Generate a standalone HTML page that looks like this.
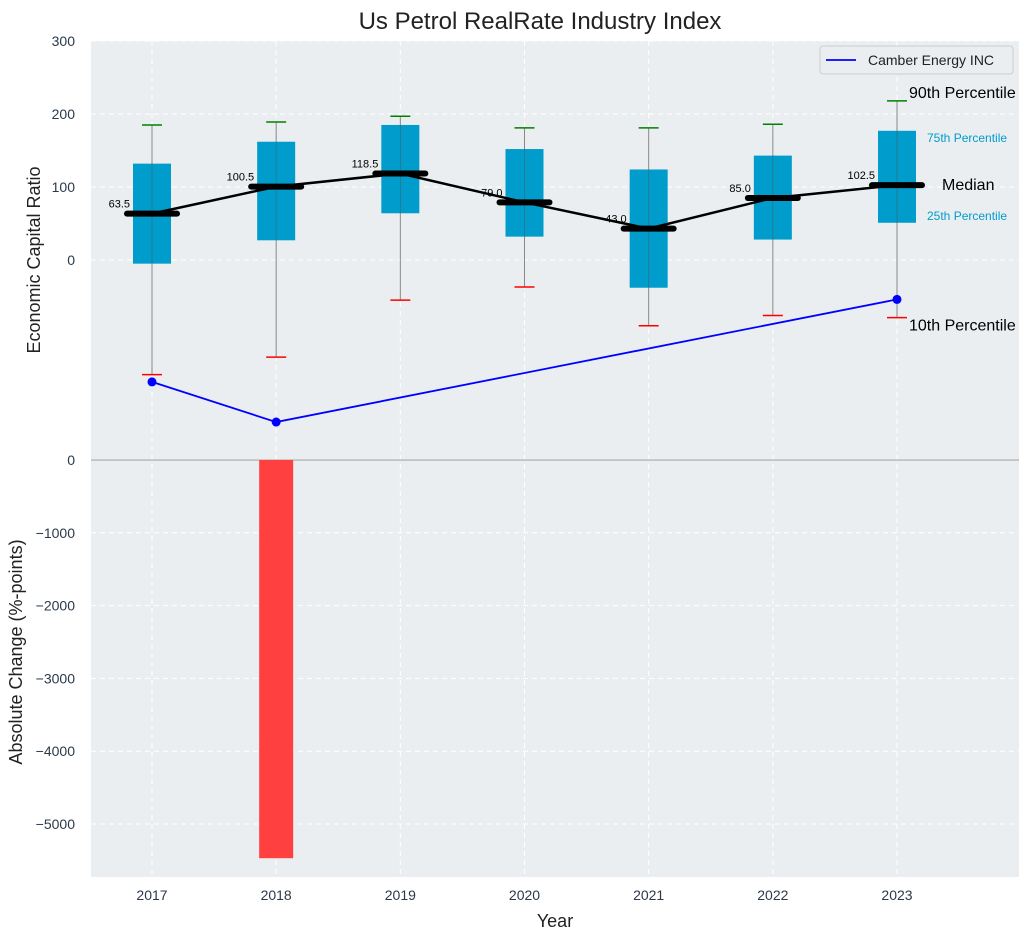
<!DOCTYPE html>
<html><head><meta charset="utf-8"><style>
body{margin:0;background:#fff;font-family:"Liberation Sans",sans-serif}
svg text{font-family:"Liberation Sans","DejaVu Sans",sans-serif}
</style></head><body>
<svg id="chart" width="1030" height="940" xmlns="http://www.w3.org/2000/svg"></svg>
<script>
const years=[2017,2018,2019,2020,2021,2022,2023];
const q1=[-5,27,64,32,-38,28,51];
const q3=[132,162,185,152,124,143,177];
const medians=[63.5,100.5,118.5,79.0,43.0,85.0,102.5];
const p90=[185,189,197,181,181,186,218];
const p10=[-157,-133,-55,-37,-90,-76,-79];
const camber=[-167,-222,null,null,null,null,-54];
const changeVals=[0,-5470,0,0,0,0,0];
const topTicks=[0,100,200,300];
const botTicks=[0,-1000,-2000,-3000,-4000,-5000];

const NS="http://www.w3.org/2000/svg";
const svg=document.getElementById('chart');
function el(tag,attrs,parent,txt){const e=document.createElementNS(NS,tag);for(const k in attrs)e.setAttribute(k,attrs[k]);if(txt!==undefined)e.textContent=txt;(parent||svg).appendChild(e);return e;}
const fmt=v=>String(v).replace('-','\u2212');
const L=91,R=1019;
const xs=i=>152+i*(897-152)/6;
const yT=v=>260-v*0.73;
const yB=v=>460-v*0.0728;

let bg=el('rect',{x:L,y:41,width:R-L,height:418,fill:'#eaeef0'});

let bg2=el('rect',{x:L,y:460,width:R-L,height:417,fill:'#eaeef0'});

years.forEach((y,i)=>{el('line',{x1:xs(i),x2:xs(i),y1:41,y2:877,stroke:'#fff','stroke-dasharray':'5,4','stroke-width':1});});
topTicks.forEach(t=>{el('line',{x1:L,x2:R,y1:yT(t),y2:yT(t),stroke:'#fff','stroke-dasharray':'5,4'});
 const tx=el('text',{x:75,y:yT(t)+5,'text-anchor':'end','font-size':14,fill:'#2b3a4a'},null,fmt(t));});
botTicks.forEach(t=>{el('line',{x1:L,x2:R,y1:yB(t),y2:yB(t),stroke:'#fff','stroke-dasharray':'5,4'});
 const tx=el('text',{x:75,y:yB(t)+5,'text-anchor':'end','font-size':14,fill:'#2b3a4a'},null,fmt(t));});
el('line',{x1:L,x2:R,y1:460,y2:460,stroke:'#aaa','stroke-width':1.2});
years.forEach((y,i)=>{
 const x=xs(i);
 el('line',{x1:x,x2:x,y1:yT(p90[i]),y2:yT(p10[i]),stroke:'#888','stroke-width':1});
 const b=el('rect',{x:x-19,y:yT(q3[i]),width:38,height:yT(q1[i])-yT(q3[i]),fill:'#009ccc'});
 
 el('line',{x1:x,x2:x,y1:yT(q3[i]),y2:yT(q1[i]),stroke:'#555','stroke-width':0.8,opacity:0.6});
 el('line',{x1:x-10,x2:x+10,y1:yT(p90[i]),y2:yT(p90[i]),stroke:'green','stroke-width':1.5});
 el('line',{x1:x-10,x2:x+10,y1:yT(p10[i]),y2:yT(p10[i]),stroke:'red','stroke-width':1.5});
});
let pts=years.map((y,i)=>xs(i)+','+yT(medians[i])).join(' ');
let ml=el('polyline',{points:pts,fill:'none',stroke:'#000','stroke-width':2.5});

years.forEach((y,i)=>{
 const x=xs(i);
 const m=el('line',{x1:x-25,x2:x+25,y1:yT(medians[i]),y2:yT(medians[i]),stroke:'#000','stroke-width':6,'stroke-linecap':'round'});
 
 const t=el('text',{x:x-22,y:yT(medians[i])-6,'text-anchor':'end','font-size':11,fill:'#000'},null,medians[i].toFixed(1));
 
});
const cp=[];camber.forEach((v,i)=>{if(v!==null)cp.push([xs(i),yT(v)]);});
let cl=el('polyline',{points:cp.map(p=>p.join(',')).join(' '),fill:'none',stroke:'blue','stroke-width':1.8});

cp.forEach(p=>{const c=el('circle',{cx:p[0],cy:p[1],r:4.5,fill:'blue'});});
changeVals.forEach((v,i)=>{if(v===0)return;
 const b=el('rect',{x:xs(i)-17,y:yB(0),width:34,height:yB(v)-yB(0),fill:'#ff4040'});
 });
years.forEach((y,i)=>{const t=el('text',{x:xs(i),y:900,'text-anchor':'middle','font-size':14,fill:'#2b3a4a'},null,y);});
const x7=xs(6);
[[x7+12,98,'90th Percentile',16,'#000'],[x7+30,yT(q3[6])+11,'75th Percentile',12,'#009ccc'],[x7+45,yT(medians[6])+5,'Median',16,'#000'],[x7+30,220,'25th Percentile',12,'#009ccc'],[x7+12,yT(p10[6])+13,'10th Percentile',16,'#000']].forEach(a=>{
 const t=el('text',{x:a[0],y:a[1],'font-size':a[3],fill:a[4]},null,a[2]);});
let tt=el('text',{x:540,y:29,'text-anchor':'middle','font-size':24,fill:'#222'},null,'Us Petrol RealRate Industry Index');
let xt=el('text',{x:555,y:927,'text-anchor':'middle','font-size':18,fill:'#222'},null,'Year');
let y1=el('text',{x:40,y:260,'text-anchor':'middle','font-size':18,fill:'#222',transform:'rotate(-90 40 260)'},null,'Economic Capital Ratio');
let y2=el('text',{x:22,y:652,'text-anchor':'middle','font-size':18,fill:'#222',transform:'rotate(-90 22 652)'},null,'Absolute Change (%-points)');
const lg=el('g',{});
el('rect',{x:820,y:46,width:193,height:28,fill:'#eaeef0',stroke:'#ccc',rx:3},lg);
el('line',{x1:826,x2:856,y1:60,y2:60,stroke:'blue','stroke-width':1.8},lg);
el('text',{x:868,y:65,'font-size':14,fill:'#222'},lg,'Camber Energy INC');
</script>
</body></html>
